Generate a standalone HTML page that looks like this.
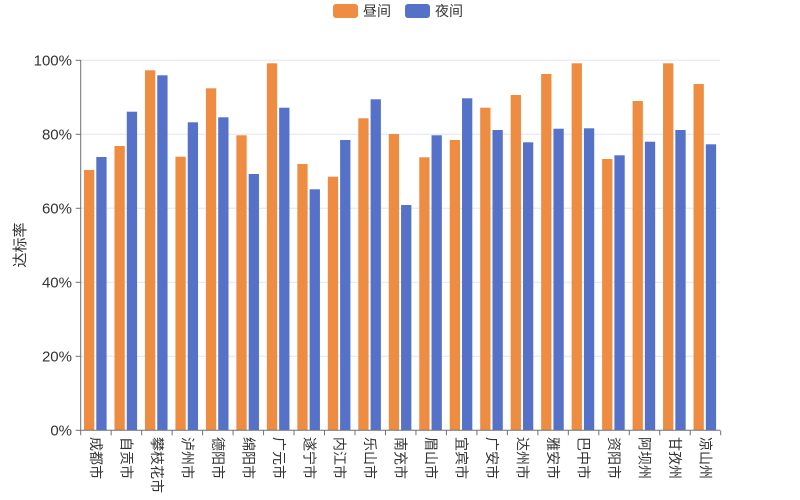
<!DOCTYPE html>
<html><head><meta charset="utf-8"><style>
html,body{margin:0;padding:0;background:#fff;}
svg{display:block;font-family:"Liberation Sans","Noto Sans CJK SC",sans-serif;}
</style></head><body>
<svg id="c" width="800" height="500" xmlns="http://www.w3.org/2000/svg">
<rect x="333" y="4" width="25" height="14" rx="3" fill="#ee8d42"/>
<text x="363" y="16" font-size="14" fill="#333">昼间</text>
<rect x="405" y="4" width="25" height="14" rx="3" fill="#5572c8"/>
<text x="435" y="16" font-size="14" fill="#333">夜间</text>
<g id="grid"></g>
<text transform="translate(25,245) rotate(-90)" text-anchor="middle" font-size="15" fill="#333">达标率</text>
</svg>
<script>
const s=document.getElementById('c'),g=document.getElementById('grid'),NS='http://www.w3.org/2000/svg';
function el(t,a,p,txt){const e=document.createElementNS(NS,t);for(const k in a)e.setAttribute(k,a[k]);if(txt)e.textContent=txt;(p||g).appendChild(e);return e;}
const y0=430.3,x0=80.7,bw=640/21;
for(let i=0;i<=5;i++){const y=y0-i*74;
 if(i>0)el('line',{x1:x0,x2:720,y1:y,y2:y,stroke:'#e0e6f1'});
 el('text',{x:72,y:y+5,'text-anchor':'end','font-size':15,fill:'#333'},null,(i*20)+'%');}
const names=['成都市','自贡市','攀枝花市','泸州市','德阳市','绵阳市','广元市','遂宁市','内江市','乐山市','南充市','眉山市','宜宾市','广安市','达州市','雅安市','巴中市','资阳市','阿坝州','甘孜州','凉山州'];
const o=[170,146,70.3,156.7,88.3,135.3,63.3,164,176.7,118.3,134,157.3,140,107.7,95,74,63.3,159,101,63.3,84];
const b=[157,111.7,75.3,122.3,117.3,174,107.7,189.3,140,99.3,205,135.3,98.3,130,142.3,128.7,128.3,155.3,141.7,130,144.3];
names.forEach((n,i)=>{const cx=x0+i*bw;
 el('rect',{x:cx+3.3,y:o[i],width:10.3,height:y0-o[i],fill:'#ee8d42'});
 el('rect',{x:cx+15.6,y:b[i],width:10.3,height:y0-b[i],fill:'#5572c8'});
 el('line',{x1:cx+bw,x2:cx+bw,y1:y0,y2:y0+5,stroke:'#6e7079'});
 el('text',{transform:`translate(${cx+bw/2},437) rotate(90)`,'font-size':14,fill:'#333','dominant-baseline':'central'},null,n);
});
el('line',{x1:x0,x2:x0,y1:60,y2:y0,stroke:'#6e7079'});
el('line',{x1:x0,x2:720,y1:y0,y2:y0,stroke:'#6e7079'});
for(let i=0;i<=5;i++){const y=y0-i*74;el('line',{x1:x0-5,x2:x0,y1:y,y2:y,stroke:'#6e7079'});}
el('line',{x1:x0,x2:x0,y1:y0,y2:y0+5,stroke:'#6e7079'});
</script>
</body></html>
